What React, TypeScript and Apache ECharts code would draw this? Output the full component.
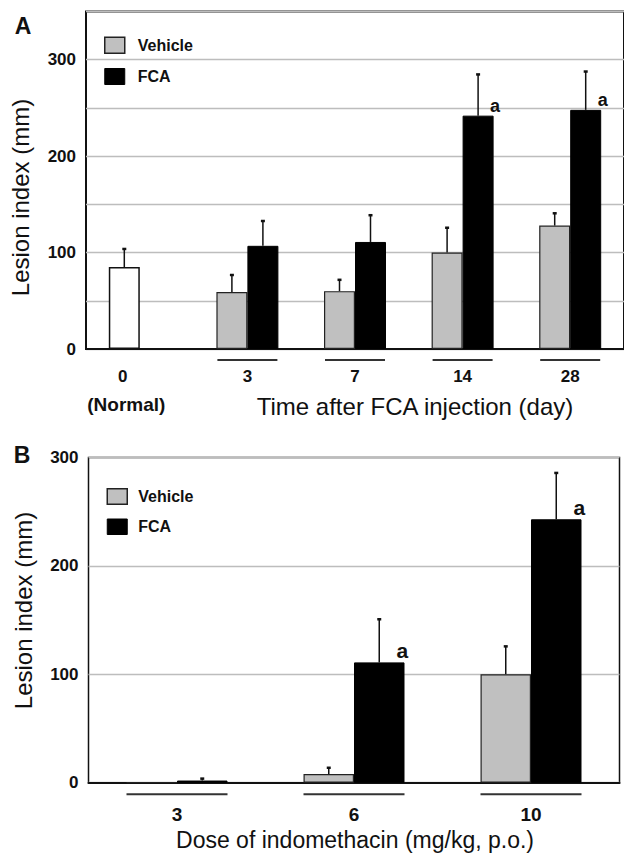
import React, { useEffect, useRef } from "react";
import * as echarts from "echarts";

// ---------- Data ----------
// Panel A: time after FCA injection
const catsA = ["0", "3", "7", "14", "28"];
const normalLabel = "(Normal)";
const normalValue = 85;
const normalErr = 19;
const vehicleA = [59, 60, 100, 128];
const vehicleErrA = [18, 12, 26, 13];
const fcaA = [107, 111, 242, 248];
const fcaErrA = [26, 28, 43, 40];
const annotA = ["", "", "", "a", "a"];

// Panel B: dose of indomethacin
const catsB = ["3", "6", "10"];
const vehicleB = [0, 8, 100];
const vehicleErrB = [0, 6, 26];
const fcaB = [2, 111, 243];
const fcaErrB = [2, 40, 43];
const annotB = ["", "a", "a"];

const yTicksA = [0, 100, 200, 300];
const yTicksB = [0, 100, 200, 300];

const FONT = "'Liberation Sans', Arial, Helvetica, sans-serif";
const GRAY = "#c0c0c0";
const INK = "#111";

const BW_A = 31;
const BW_B = 50.5;

function errRender(off: number) {
  return (params: any, api: any) => {
    const idx = api.value(0);
    const v = api.value(1);
    const e = api.value(2);
    if (!e) return { type: "group", children: [] };
    const base = api.coord([idx, v]);
    const top = api.coord([idx, v + e]);
    const x = base[0] + off;
    return {
      type: "group",
      children: [
        { type: "line", shape: { x1: x, y1: base[1], x2: x, y2: top[1] }, style: { stroke: INK, lineWidth: 1.5 } },
        { type: "rect", shape: { x: x - 2, y: top[1] - 1, width: 4, height: 2.5 }, style: { fill: INK } },
      ],
    };
  };
}

function underlineRender(half: number, dy: number) {
  return (params: any, api: any) => {
    const c = api.coord([api.value(0), 0]);
    return {
      type: "line",
      shape: { x1: c[0] - half, y1: c[1] + dy, x2: c[0] + half, y2: c[1] + dy },
      style: { stroke: "#333", lineWidth: 2 },
    };
  };
}

export default function App() {
  const ref = useRef<HTMLDivElement>(null);
  useEffect(() => {
    if (!ref.current) return;
    const chart = echarts.init(ref.current, null, { renderer: "svg" });

    const vehA = [
      { value: normalValue, itemStyle: { color: "#ffffff", borderColor: INK, borderWidth: 1.5 } },
      ...vehicleA,
    ];
    const fcaDataA = ["-", ...fcaA].map((v, i) =>
      annotA[i]
        ? {
            value: v,
            label: {
              show: true, position: "top", distance: 1, offset: [17, 0], formatter: annotA[i],
              fontSize: 18, fontWeight: "bold", color: INK, fontFamily: FONT,
            },
          }
        : v
    );
    const fcaDataB = fcaB.map((v, i) =>
      annotB[i]
        ? {
            value: v,
            label: {
              show: true, position: "top", distance: 1.5, offset: [23, 0], formatter: annotB[i],
              fontSize: 21, fontWeight: "bold", color: INK, fontFamily: FONT,
            },
          }
        : v
    );

    const errVehA = [[0, normalValue, normalErr], ...vehicleA.map((v, i) => [i + 1, v, vehicleErrA[i]])];
    const errFcaA = fcaA.map((v, i) => [i + 1, v, fcaErrA[i]]);
    const errVehB = vehicleB.map((v, i) => [i, v, vehicleErrB[i]]);
    const errFcaB = fcaB.map((v, i) => [i, v, fcaErrB[i]]);

    const yAxisCommon = {
      type: "value",
      axisLine: { show: false },
      axisTick: { show: false },
      splitLine: { lineStyle: { color: "#bdbdbd", width: 1.3 } },
    };

    const legendCommon = {
      orient: "vertical",
      icon: "rect",
      itemWidth: 20,
      selectedMode: false,
      textStyle: { fontSize: 16, fontWeight: "bold", color: INK, fontFamily: FONT, lineHeight: 16 },
    };
    const legendData = [
      { name: "Vehicle", itemStyle: { color: GRAY, borderColor: "#222", borderWidth: 1.5 } },
      { name: "FCA", itemStyle: { color: "#000", borderColor: "#000", borderWidth: 1 } },
    ];

    chart.setOption({
      animation: false,
      backgroundColor: "#ffffff",
      textStyle: { fontFamily: FONT },
      grid: [
        { left: 86, top: 11.5, width: 542.5, height: 337.5, show: true, borderColor: INK, borderWidth: 2 },
        { left: 88.5, top: 457.5, width: 531, height: 325.2, show: true, borderColor: INK, borderWidth: 1.5 },
      ],
      legend: [
        {
          ...legendCommon, left: 99, top: 31.5, itemHeight: 16, itemGap: 14, data: legendData,
          textStyle: { ...legendCommon.textStyle, padding: [0, 0, 0, 8] },
        },
        {
          ...legendCommon, left: 101.5, top: 483, itemHeight: 15.5, itemGap: 13.5, data: legendData,
          textStyle: { ...legendCommon.textStyle, padding: [0, 0, 0, 6] },
        },
      ],
      xAxis: [
        {
          type: "category", gridIndex: 0, data: catsA,
          axisLine: { lineStyle: { color: INK, width: 2 } },
          axisTick: { show: false },
          axisLabel: {
            interval: 0, margin: 17, color: INK, fontFamily: FONT, fontSize: 17, fontWeight: "bold", lineHeight: 20,
            formatter: (v: string, i: number) => (i === 0 ? `{d|${v}}\n{n|${normalLabel}}` : v),
            rich: {
              d: { fontSize: 17, fontWeight: "bold", lineHeight: 20, padding: [0, 34, 0, 0], color: INK, fontFamily: FONT },
              n: { fontSize: 19, fontWeight: "bold", lineHeight: 36, padding: [0, 27, 0, 0], color: INK, fontFamily: FONT },
            },
          },
        },
        {
          type: "category", gridIndex: 1, data: catsB,
          axisLine: { lineStyle: { color: INK, width: 2 } },
          axisTick: { show: false },
          axisLabel: { interval: 0, margin: 22, color: INK, fontFamily: FONT, fontSize: 19, fontWeight: "bold" },
        },
      ],
      yAxis: [
        {
          ...yAxisCommon, gridIndex: 0, min: 0, max: 350, interval: 50,
          axisLabel: {
            margin: 10, color: INK, fontFamily: FONT, fontSize: 17, fontWeight: "bold", padding: [10, 0, 0, 0],
            formatter: (v: number) => (yTicksA.includes(v) ? String(v) : ""),
          },
        },
        {
          ...yAxisCommon, gridIndex: 1, min: 0, max: 300, interval: 100,
          axisLabel: {
            margin: 10, color: INK, fontFamily: FONT, fontSize: 17, fontWeight: "bold", padding: [4, 0, 0, 0],
            formatter: (v: number) => (yTicksB.includes(v) ? String(v) : ""),
          },
        },
      ],
      series: [
        {
          name: "Vehicle", type: "bar", xAxisIndex: 0, yAxisIndex: 0, barWidth: BW_A, barGap: "0%",
          itemStyle: { color: GRAY, borderColor: "#222", borderWidth: 1.2 }, data: vehA,
        },
        {
          name: "FCA", type: "bar", xAxisIndex: 0, yAxisIndex: 0, barWidth: BW_A, barGap: "0%",
          itemStyle: { color: "#000", borderColor: "#000", borderWidth: 1 }, data: fcaDataA,
        },
        {
          name: "errVehA", type: "custom", xAxisIndex: 0, yAxisIndex: 0, silent: true, clip: false, z: 5,
          renderItem: errRender(-BW_A / 2), data: errVehA,
        },
        {
          name: "errFcaA", type: "custom", xAxisIndex: 0, yAxisIndex: 0, silent: true, clip: false, z: 5,
          renderItem: errRender(BW_A / 2), data: errFcaA,
        },
        {
          name: "ulA", type: "custom", xAxisIndex: 0, yAxisIndex: 0, silent: true, clip: false,
          renderItem: underlineRender(30, 11), data: [[1, 0], [2, 0], [3, 0], [4, 0]],
        },
        {
          name: "Vehicle", type: "bar", xAxisIndex: 1, yAxisIndex: 1, barWidth: BW_B, barGap: "0%",
          itemStyle: { color: GRAY, borderColor: "#222", borderWidth: 1.2 }, data: vehicleB,
        },
        {
          name: "FCA", type: "bar", xAxisIndex: 1, yAxisIndex: 1, barWidth: BW_B, barGap: "0%",
          itemStyle: { color: "#000", borderColor: "#000", borderWidth: 1 }, data: fcaDataB,
        },
        {
          name: "errVehB", type: "custom", xAxisIndex: 1, yAxisIndex: 1, silent: true, clip: false, z: 5,
          renderItem: errRender(-BW_B / 2), data: errVehB,
        },
        {
          name: "errFcaB", type: "custom", xAxisIndex: 1, yAxisIndex: 1, silent: true, clip: false, z: 5,
          renderItem: errRender(BW_B / 2), data: errFcaB,
        },
        {
          name: "ulB", type: "custom", xAxisIndex: 1, yAxisIndex: 1, silent: true, clip: false,
          renderItem: underlineRender(50.5, 11.6), data: [[0, 0], [1, 0], [2, 0]],
        },
      ],
      graphic: [
        { type: "text", x: 23, y: 26, style: { text: "A", font: `bold 23px ${FONT}`, fill: INK, align: "center", verticalAlign: "middle" } },
        { type: "text", x: 22, y: 455, style: { text: "B", font: `bold 23px ${FONT}`, fill: INK, align: "center", verticalAlign: "middle" } },
        {
          type: "text", x: 20, y: 197.5, rotation: Math.PI / 2,
          style: { text: "Lesion index (mm)", font: `24px ${FONT}`, fill: INK, align: "center", verticalAlign: "middle" },
        },
        {
          type: "text", x: 23, y: 610.5, rotation: Math.PI / 2,
          style: { text: "Lesion index (mm)", font: `24px ${FONT}`, fill: INK, align: "center", verticalAlign: "middle" },
        },
        {
          type: "text", x: 415, y: 406,
          style: { text: "Time after FCA injection (day)", font: `24px ${FONT}`, fill: INK, align: "center", verticalAlign: "middle" },
        },
        {
          type: "text", x: 355, y: 840,
          style: { text: "Dose of indomethacin (mg/kg, p.o.)", font: `23px ${FONT}`, fill: INK, align: "center", verticalAlign: "middle" },
        },
      ],
    });
    return () => chart.dispose();
  }, []);
  return (
    <div
      ref={ref}
      style={{ position: "fixed", left: 0, top: 0, width: 624, height: 855, background: "#fff" }}
    />
  );
}
